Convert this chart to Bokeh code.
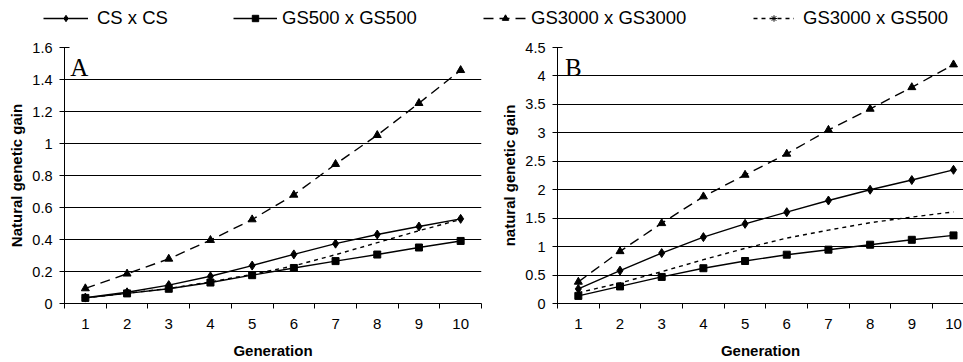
from bokeh.plotting import figure
from bokeh.layouts import column, row
from bokeh.models import (Range1d, FixedTicker, CustomJSTickFormatter, Legend, LegendItem,
                          Label, ColumnDataSource)
from bokeh.embed import file_html
from bokeh.resources import INLINE

# ---------------- data ----------------
gen = [1, 2, 3, 4, 5, 6, 7, 8, 9, 10]
series_names = ["CS x CS", "GS500 x GS500", "GS3000 x GS3000", "GS3000 x GS500"]

cs_a = [0.037, 0.070, 0.115, 0.170, 0.237, 0.307, 0.374, 0.431, 0.481, 0.529]
gs500_a = [0.035, 0.063, 0.092, 0.131, 0.177, 0.222, 0.265, 0.306, 0.350, 0.391]
gs3000_a = [0.094, 0.186, 0.279, 0.396, 0.525, 0.679, 0.871, 1.052, 1.252, 1.458]
gs3000x500_a = [0.035, 0.064, 0.094, 0.135, 0.182, 0.235, 0.305, 0.380, 0.455, 0.525]

cs_b = [0.257, 0.578, 0.887, 1.167, 1.400, 1.605, 1.810, 2.000, 2.170, 2.350]
gs500_b = [0.134, 0.300, 0.467, 0.620, 0.747, 0.858, 0.946, 1.033, 1.120, 1.197]
gs3000_b = [0.380, 0.917, 1.410, 1.880, 2.260, 2.630, 3.050, 3.420, 3.800, 4.200]
gs3000x500_b = [0.190, 0.360, 0.560, 0.770, 0.970, 1.150, 1.290, 1.420, 1.520, 1.610]

y_ticks_a = [0, 0.2, 0.4, 0.6, 0.8, 1.0, 1.2, 1.4, 1.6]
y_ticks_b = [0, 0.5, 1.0, 1.5, 2.0, 2.5, 3.0, 3.5, 4.0, 4.5]

# ---------------- styles ----------------
FONT = "Liberation Sans"
styles = [
    dict(dash="solid", marker="diamond", msize=9),
    dict(dash="solid", marker="square", msize=7),
    dict(dash="10 6", marker="triangle", msize=8),
    dict(dash="4 4", marker="asterisk", msize=8),
]
LW = 1.4
legend_x = [43, 233, 483, 753]        # left edge of each legend entry (px)
legend_glyph_w = [45, 44, 44, 41]
legend_standoff = [9, 5, 4, 9]


def make_panel(title, ylabel, ys, yticks, ymax, xend, width, mbl, mbr, letter_x):
    p = figure(width=width, height=323, x_range=Range1d(0.5, xend), y_range=Range1d(0, ymax),
               output_backend="svg", toolbar_location=None,
               min_border_left=mbl, min_border_right=mbr, min_border_top=9, min_border_bottom=58)
    p.outline_line_color = None
    p.background_fill_color = "white"
    p.xgrid.visible = False
    p.ygrid.grid_line_color = "black"
    p.ygrid.grid_line_width = 1

    xa = p.xaxis[0]
    xa.ticker = FixedTicker(ticks=gen, minor_ticks=[g - 0.5 for g in gen] + [gen[-1] + 0.5])
    xa.major_tick_line_color = None
    xa.major_tick_out = 0
    xa.major_tick_in = 0
    xa.minor_tick_line_color = "black"
    xa.minor_tick_out = 5
    xa.minor_tick_in = 0
    xa.axis_line_color = "black"
    xa.major_label_text_font = FONT
    xa.major_label_text_font_size = "15px"
    xa.major_label_text_color = "black"
    xa.major_label_standoff = 10
    xa.axis_label = "Generation"
    xa.axis_label_text_font = FONT
    xa.axis_label_text_font_style = "bold"
    xa.axis_label_text_font_size = "15px"
    xa.axis_label_text_color = "black"
    xa.axis_label_standoff = 10

    ya = p.yaxis[0]
    ya.ticker = FixedTicker(ticks=yticks)
    ya.formatter = CustomJSTickFormatter(code="return String(Math.round(tick*10)/10);")
    ya.major_tick_in = 5
    ya.major_tick_out = 5
    ya.minor_tick_line_color = None
    ya.axis_line_color = "black"
    ya.major_label_text_font = FONT
    ya.major_label_text_font_size = "14.5px"
    ya.major_label_text_color = "black"
    ya.major_label_standoff = 7
    ya.axis_label = ylabel
    ya.axis_label_text_font = FONT
    ya.axis_label_text_font_style = "bold"
    ya.axis_label_text_font_size = "15px"
    ya.axis_label_text_color = "black"
    ya.axis_label_standoff = 4

    for yv, st in zip(ys, styles):
        src = ColumnDataSource(dict(x=gen, y=yv))
        p.line("x", "y", source=src, line_color="black", line_width=LW, line_dash=st["dash"])
        if st["marker"] != "asterisk":
            p.scatter("x", "y", source=src, marker=st["marker"], size=st["msize"],
                      fill_color="black", line_color="black")

    p.add_layout(Label(x=letter_x, y=ymax * (1 - 6.0 / 256), text=title,
                       text_font="Liberation Serif", text_font_size="25px",
                       text_baseline="top", text_color="black"))
    return p


pA = make_panel("A", "Natural genetic gain", [cs_a, gs500_a, gs3000_a, gs3000x500_a],
                y_ticks_a, 1.6, 10.5, 496, 64, 15, 0.64)
pB = make_panel("B", "natural genetic gain", [cs_b, gs500_b, gs3000_b, gs3000x500_b],
                y_ticks_b, 4.5, 10.24, 467, 61, 0, 0.68)

# ---------------- legend strip ----------------
# legend renderers share the panel-A data but sit outside this strip's visible y range
leg = figure(width=963, height=38, x_range=Range1d(0, 963), y_range=Range1d(100, 138),
             x_axis_type=None, y_axis_type=None, output_backend="svg", toolbar_location=None,
             min_border=0)
leg.outline_line_color = None
leg.xgrid.visible = False
leg.ygrid.visible = False
for yv, st, name, lx, gw, so in zip([cs_a, gs500_a, gs3000_a, gs3000x500_a], styles,
                                    series_names, legend_x, legend_glyph_w, legend_standoff):
    src = ColumnDataSource(dict(x=gen, y=yv))
    r1 = leg.line("x", "y", source=src, line_color="black", line_width=LW, line_dash=st["dash"])
    r2 = leg.scatter("x", "y", source=src, marker=st["marker"], size=st["msize"],
                     fill_color="black", line_color="black")
    lg = Legend(items=[LegendItem(label=name, renderers=[r1, r2])], orientation="horizontal",
                location=(lx, 9), glyph_width=gw, glyph_height=16, label_height=16,
                label_standoff=so, padding=0, margin=0, border_line_color=None,
                background_fill_alpha=0, label_text_font=FONT, label_text_font_size="18.5px",
                label_text_color="black")
    leg.add_layout(lg)

layout = column(leg, row(pA, pB, spacing=0), spacing=0)
open("out.html", "w").write(file_html(layout, INLINE))
